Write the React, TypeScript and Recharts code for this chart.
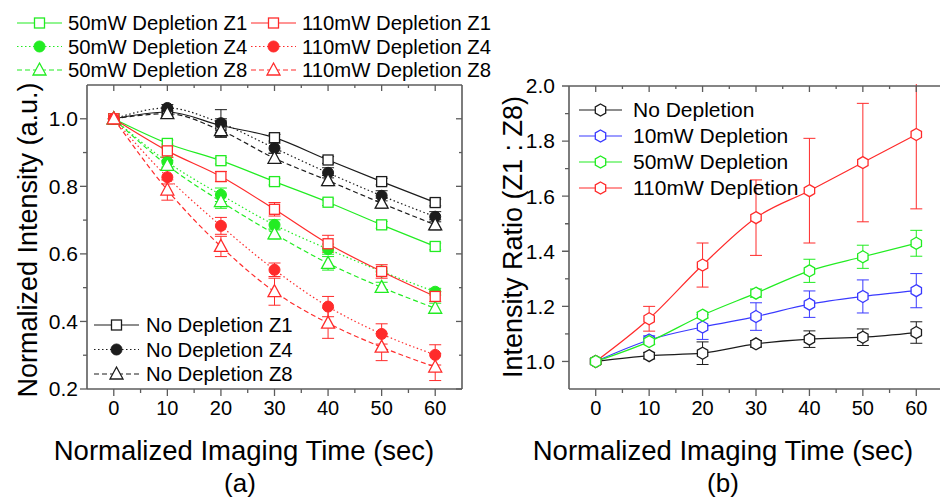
import React from "react";
import { LineChart, Line, XAxis, YAxis, ErrorBar } from "recharts";

const times = [0, 10, 20, 30, 40, 50, 60];

// panel (a) - normalized intensity per depth
const noDepZ1 = [1.0, 1.02, 0.98, 0.944, 0.878, 0.814, 0.752];
const noDepZ4 = [1.0, 1.032, 0.987, 0.913, 0.84, 0.772, 0.71];
const noDepZ8 = [1.0, 1.015, 0.965, 0.883, 0.817, 0.75, 0.686];
const dep50Z1 = [1.0, 0.927, 0.876, 0.814, 0.753, 0.686, 0.622];
const dep50Z4 = [1.0, 0.872, 0.775, 0.686, 0.614, 0.548, 0.488];
const dep50Z8 = [1.0, 0.862, 0.755, 0.659, 0.572, 0.501, 0.439];
const dep110Z1 = [1.0, 0.905, 0.829, 0.732, 0.63, 0.548, 0.474];
const dep110Z4 = [1.0, 0.827, 0.683, 0.553, 0.444, 0.363, 0.301];
const dep110Z8 = [1.0, 0.789, 0.622, 0.488, 0.395, 0.324, 0.265];

const noDepZ1Err = [0, 0.01, 0.02, 0.01, 0.01, 0.01, 0.01];
const noDepZ4Err = [0, 0.01, 0.04, 0.015, 0.015, 0.015, 0.015];
const noDepZ8Err = [0, 0.01, 0.02, 0.015, 0.015, 0.015, 0.015];
const dep50Z1Err = [0, 0.01, 0.01, 0.01, 0.01, 0.01, 0.01];
const dep50Z4Err = [0, 0.015, 0.02, 0.015, 0.015, 0.01, 0.01];
const dep50Z8Err = [0, 0.015, 0.02, 0.015, 0.02, 0.015, 0.015];
const dep110Z1Err = [0, 0.02, 0.015, 0.02, 0.025, 0.02, 0.015];
const dep110Z4Err = [0, 0.02, 0.025, 0.02, 0.03, 0.03, 0.03];
const dep110Z8Err = [0, 0.03, 0.03, 0.04, 0.045, 0.04, 0.04];

// panel (b) - Z1:Z8 intensity ratio
const ratioNoDep = [1.0, 1.021, 1.03, 1.064, 1.081, 1.088, 1.105];
const ratio10 = [1.0, 1.078, 1.125, 1.163, 1.208, 1.236, 1.257];
const ratio50 = [1.0, 1.072, 1.168, 1.248, 1.329, 1.38, 1.429];
const ratio110 = [1.0, 1.155, 1.35, 1.522, 1.62, 1.722, 1.824];

const ratioNoDepErr = [0, 0.012, 0.041, 0.012, 0.03, 0.03, 0.039];
const ratio10Err = [0, 0.015, 0.045, 0.05, 0.048, 0.06, 0.062];
const ratio50Err = [0, 0.01, 0.01, 0.015, 0.042, 0.042, 0.047];
const ratio110Err = [0, 0.045, 0.08, 0.137, 0.19, 0.215, 0.27];

const xTicks = [0, 5, 10, 15, 20, 25, 30, 35, 40, 45, 50, 55, 60];
const yTicksA = [0.2, 0.3, 0.4, 0.5, 0.6, 0.7, 0.8, 0.9, 1.0];
const yTicksB = [1.0, 1.1, 1.2, 1.3, 1.4, 1.5, 1.6, 1.7, 1.8, 1.9, 2.0];

const BLACK = "#1c1c1c";
const GREEN = "#22ec22";
const RED = "#ff2b2b";
const BLUE = "#3a3aff";
const AXIS = "#5c5c5c";
const FONT = '"Liberation Sans", Arial, Helvetica, sans-serif';

const SOLID = "";
const DOTTED = "1.5 2.5";
const DASHED = "5 3";

const panelA = [
  { key: "nd1", name: "No Depletion Z1", color: BLACK, marker: "square", dash: SOLID, values: noDepZ1, err: noDepZ1Err },
  { key: "nd4", name: "No Depletion Z4", color: BLACK, marker: "circle", dash: DOTTED, values: noDepZ4, err: noDepZ4Err },
  { key: "nd8", name: "No Depletion Z8", color: BLACK, marker: "triangle", dash: DASHED, values: noDepZ8, err: noDepZ8Err },
  { key: "g1", name: "50mW Depletion Z1", color: GREEN, marker: "square", dash: SOLID, values: dep50Z1, err: dep50Z1Err },
  { key: "g4", name: "50mW Depletion Z4", color: GREEN, marker: "circle", dash: DOTTED, values: dep50Z4, err: dep50Z4Err },
  { key: "g8", name: "50mW Depletion Z8", color: GREEN, marker: "triangle", dash: DASHED, values: dep50Z8, err: dep50Z8Err },
  { key: "r1", name: "110mW Depletion Z1", color: RED, marker: "square", dash: SOLID, values: dep110Z1, err: dep110Z1Err },
  { key: "r4", name: "110mW Depletion Z4", color: RED, marker: "circle", dash: DOTTED, values: dep110Z4, err: dep110Z4Err },
  { key: "r8", name: "110mW Depletion Z8", color: RED, marker: "triangle", dash: DASHED, values: dep110Z8, err: dep110Z8Err },
];

const panelB = [
  { key: "b0", name: "No Depletion", color: BLACK, values: ratioNoDep, err: ratioNoDepErr },
  { key: "b10", name: "10mW Depletion", color: BLUE, values: ratio10, err: ratio10Err },
  { key: "b50", name: "50mW Depletion", color: GREEN, values: ratio50, err: ratio50Err },
  { key: "b110", name: "110mW Depletion", color: RED, values: ratio110, err: ratio110Err },
];
// draw order so the green hexagon ends up on top at t=0
const panelBOrder = ["b0", "b10", "b110", "b50"];

const buildRows = (series: any[]) =>
  times.map((t, i) => {
    const row: any = { t };
    series.forEach((s) => {
      row[s.key] = s.values[i];
      row[s.key + "Err"] = s.err[i];
    });
    return row;
  });

const dataA = buildRows(panelA);
const dataB = buildRows(panelB);

const Marker = ({ kind, cx, cy, color }: any) => {
  if (cx == null || cy == null) return null;
  if (kind === "square")
    return <rect x={cx - 5} y={cy - 5} width={10} height={10} fill="#fff" stroke={color} strokeWidth={1.3} />;
  if (kind === "circle") return <circle cx={cx} cy={cy} r={5.5} fill={color} stroke={color} />;
  if (kind === "triangle")
    return (
      <polygon
        points={`${cx},${cy - 7} ${cx + 6.5},${cy + 5} ${cx - 6.5},${cy + 5}`}
        fill="#fff"
        stroke={color}
        strokeWidth={1.3}
      />
    );
  const r = 6;
  const pts = [-90, -30, 30, 90, 150, 210]
    .map((a) => `${cx + r * Math.cos((a * Math.PI) / 180)},${cy + r * Math.sin((a * Math.PI) / 180)}`)
    .join(" ");
  return <polygon points={pts} fill="#fff" stroke={color} strokeWidth={1.3} />;
};

const isMajorX = (v: number) => v % 10 === 0;
const isMajorY = (v: number) => Math.round(v * 10) % 2 === 0;

const bottomTick = (p: any) => {
  const major = isMajorX(p.payload.value);
  return (
    <g>
      <line x1={p.x} x2={p.x} y1={p.y} y2={p.y + (major ? 7 : 4)} stroke={AXIS} strokeWidth={1.3} />
      {major && (
        <text x={p.x} y={p.y + 19} dy="0.35em" textAnchor="middle" fontSize={20} fill="#000">
          {p.payload.value}
        </text>
      )}
    </g>
  );
};

const topTick = (p: any) => {
  const major = isMajorX(p.payload.value);
  return <line x1={p.x} x2={p.x} y1={p.y} y2={p.y + (major ? 6 : 3)} stroke={AXIS} strokeWidth={1.3} />;
};

const leftTick = (gap: number) => (p: any) => {
  const major = isMajorY(p.payload.value);
  return (
    <g>
      <line x1={p.x - (major ? 7 : 4)} x2={p.x} y1={p.y} y2={p.y} stroke={AXIS} strokeWidth={1.3} />
      {major && (
        <text x={p.x - gap} y={p.y} dy="0.35em" textAnchor="end" fontSize={21} fill="#000">
          {p.payload.value.toFixed(1)}
        </text>
      )}
    </g>
  );
};

const rightTick = (p: any) => {
  const major = isMajorY(p.payload.value);
  return <line x1={p.x - (major ? 6 : 3)} x2={p.x} y1={p.y} y2={p.y} stroke={AXIS} strokeWidth={1.3} />;
};

const axisLine = { stroke: AXIS, strokeWidth: 1.6 };

const LegendRow = ({ x, y, s, lineLen, gap, fontSize, marker }: any) => (
  <g>
    <line x1={x} x2={x + lineLen} y1={y} y2={y} stroke={s.color} strokeDasharray={s.dash || undefined} strokeWidth={1.2} />
    <Marker kind={marker} cx={x + lineLen / 2} cy={y} color={s.color} />
    <text x={x + lineLen + gap} y={y} dy="0.35em" fontSize={fontSize} fill="#000">
      {s.name}
    </text>
  </g>
);

const byKey = (key: string) => panelA.find((s) => s.key === key)!;

// axes are 1px thick so Recharts still draws them; margins are reduced by 1 to keep the plot box in place
const xAxisCommon = {
  dataKey: "t",
  type: "number" as const,
  domain: [-5, 65],
  ticks: xTicks,
  interval: 0,
  height: 1,
  tickSize: 0,
  tickMargin: 0,
  tickLine: false,
  axisLine,
  allowDataOverflow: true,
};

const yAxisCommon = {
  type: "number" as const,
  interval: 0,
  width: 1,
  tickSize: 0,
  tickMargin: 0,
  tickLine: false,
  axisLine,
  allowDataOverflow: true,
};

export default function App() {
  return (
    <div
      style={{
        position: "absolute",
        left: 0,
        top: 0,
        width: 940,
        height: 501,
        overflow: "hidden",
        background: "#fff",
        fontFamily: FONT,
      }}
    >
      {/* panel (a) */}
      <div style={{ position: "absolute", left: 0, top: 0 }}>
        <LineChart width={480} height={501} data={dataA} margin={{ top: 84, left: 86, right: 17, bottom: 111 }}>
          <XAxis {...xAxisCommon} tick={bottomTick} />
          <XAxis {...xAxisCommon} xAxisId="top" orientation="top" tick={topTick} />
          <YAxis {...yAxisCommon} domain={[0.2, 1.1]} ticks={yTicksA} tick={leftTick(9)} />
          <YAxis {...yAxisCommon} yAxisId="right" orientation="right" domain={[0.2, 1.1]} ticks={yTicksA} tick={rightTick} />
          {panelA.map((s) => (
            <Line
              key={s.key}
              dataKey={s.key}
              name={s.name}
              type="monotone"
              stroke={s.color}
              strokeWidth={1.2}
              strokeDasharray={s.dash || undefined}
              isAnimationActive={false}
              dot={(p: any) => <Marker key={`${s.key}-${p.index}`} kind={s.marker} cx={p.cx} cy={p.cy} color={s.color} />}
              activeDot={false}
            >
              <ErrorBar dataKey={s.key + "Err"} direction="y" width={6} stroke={s.color} strokeWidth={1} />
            </Line>
          ))}
        </LineChart>
      </div>

      {/* panel (b) - clipped above the plot box so the 60 s error bar stops at the frame */}
      <div
        style={{
          position: "absolute",
          left: 480,
          top: 0,
          clipPath: "polygon(0 0, 95px 0, 95px 84px, 470px 84px, 470px 501px, 0 501px)",
        }}
      >
        <LineChart width={470} height={501} data={dataB} margin={{ top: 85, left: 88, right: 7, bottom: 111 }}>
          <XAxis {...xAxisCommon} tick={bottomTick} />
          <XAxis {...xAxisCommon} xAxisId="top" orientation="top" tick={topTick} />
          <YAxis {...yAxisCommon} domain={[0.9, 2.0]} ticks={yTicksB} tick={leftTick(14)} />
          {panelBOrder.map((k) => {
            const s = panelB.find((x) => x.key === k)!;
            return (
              <Line
                key={s.key}
                dataKey={s.key}
                name={s.name}
                type="monotone"
                stroke={s.color}
                strokeWidth={1.2}
                isAnimationActive={false}
                dot={(p: any) => <Marker key={`${s.key}-${p.index}`} kind="hexagon" cx={p.cx} cy={p.cy} color={s.color} />}
                activeDot={false}
              >
                <ErrorBar dataKey={s.key + "Err"} direction="y" width={6} stroke={s.color} strokeWidth={1} />
              </Line>
            );
          })}
        </LineChart>
      </div>

      {/* legends, axis titles, panel labels */}
      <svg width={940} height={501} style={{ position: "absolute", left: 0, top: 0, pointerEvents: "none" }}>
        {["g1", "g4", "g8"].map((k, i) => (
          <LegendRow key={k} x={17} y={23 + i * 23.5} s={byKey(k)} marker={byKey(k).marker} lineLen={45} gap={6} fontSize={20.3} />
        ))}
        {["r1", "r4", "r8"].map((k, i) => (
          <LegendRow key={k} x={251} y={23 + i * 23.5} s={byKey(k)} marker={byKey(k).marker} lineLen={45} gap={6} fontSize={20.3} />
        ))}
        {["nd1", "nd4", "nd8"].map((k, i) => (
          <LegendRow key={k} x={94} y={325 + i * 24.5} s={byKey(k)} marker={byKey(k).marker} lineLen={45} gap={7} fontSize={20.3} />
        ))}
        {panelB.map((s, i) => (
          <LegendRow key={s.key} x={579} y={110 + i * 26} s={s} marker="hexagon" lineLen={43} gap={11} fontSize={21} />
        ))}

        <text transform="translate(37,240) rotate(-90)" textAnchor="middle" fontSize={27} fill="#000">
          Normalized Intensity (a.u.)
        </text>
        <text x={244} y={460} textAnchor="middle" fontSize={27.5} fill="#000">
          Normalized Imaging Time (sec)
        </text>
        <text x={240} y={492} textAnchor="middle" fontSize={26} fill="#000">
          (a)
        </text>

        <text transform="translate(522,237) rotate(-90)" textAnchor="middle" fontSize={27} fill="#000">
          Intensity Ratio (Z1 : Z8)
        </text>
        <text x={723} y={460} textAnchor="middle" fontSize={27.5} fill="#000">
          Normalized Imaging Time (sec)
        </text>
        <text x={723} y={492} textAnchor="middle" fontSize={26} fill="#000">
          (b)
        </text>
      </svg>
    </div>
  );
}
